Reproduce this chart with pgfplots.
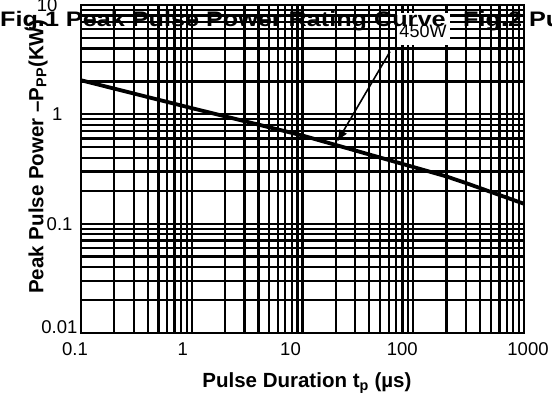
\documentclass[border=0pt]{standalone}
\usepackage{pgfplots}
\pgfplotsset{compat=1.18}
\usepackage{fontspec}
\setmainfont{Liberation Sans}
\usepackage{graphicx}
\usetikzlibrary{arrows.meta}
\newcommand\ticksfont{\fontsize{18.5}{18.5}\selectfont}
\newcommand\labfont{\fontsize{20.5}{20.5}\selectfont\bfseries}
\newcommand\titletext{\scalebox{1.2}[1]{\fontsize{21}{21}\selectfont\bfseries Fig.1 Peak Pulse Power Rating Curve}}
\begin{document}
\begin{tikzpicture}
\useasboundingbox (0pt,0pt) rectangle (552pt,401pt);
\node[anchor=base west, inner sep=0] at (0pt,374pt) {\titletext};
\node[anchor=base west, inner sep=0] at (463pt,374pt) {\scalebox{1.2}[1]{\fontsize{21}{21}\selectfont\bfseries Fig.2 Pulse Power Derating Curve}};
\begin{loglogaxis}[
  scale only axis, width=443pt, height=328pt,
  at={(81pt,68pt)}, anchor=south west,
  xmin=0.1, xmax=1000, ymin=0.01, ymax=10,
  xtick={0.1,1,10,100,1000},
  xticklabels={{0.1\hspace*{12pt}},{1\hspace*{18pt}},{10\hspace*{24pt}},{100\hspace*{22pt}},{\hspace*{8pt}1000}},
  ytick={0.01,0.1,1,10},
  yticklabels={{\raisebox{11pt}{0.01}},{0.1\hspace*{5pt}},{1\hspace*{15pt}},{10\hspace*{20pt}}},
  minor xtick={0.2,0.3,0.4,0.5,0.6,0.7,0.8,0.9,2,3,4,5,6,7,8,9,20,30,40,50,60,70,80,90,200,300,400,500,600,700,800,900},
  minor ytick={0.02,0.03,0.04,0.05,0.06,0.07,0.08,0.09,0.2,0.3,0.4,0.5,0.6,0.7,0.8,0.9,2,3,4,5,6,7,8,9},
  grid=both,
  major grid style={black, line width=2.3pt},
  minor grid style={black, line width=2.3pt},
  major tick length=0pt, minor tick length=0pt,
  axis line style={black, line width=2.3pt},
  tick label style={font=\ticksfont},
  xticklabel style={yshift=-6pt},
  xlabel={Pulse Duration t\textsubscript{p} (µs)},
  ylabel={Peak Pulse Power –P\textsubscript{PP}(KW)},
  label style={font=\labfont},
  xlabel style={at={(axis description cs:0.51,-0.1524)}, anchor=center},
  ylabel style={at={(axis description cs:-0.097,0.537)}, anchor=center},
]
\addplot[black, line width=3.8pt] coordinates {
  (0.1,2.05) (1,1.14) (10,0.64) (100,0.33) (200,0.27) (300,0.235) (1000,0.152)
};
\draw[black, line width=1.6pt, -{Latex[length=12pt,width=9pt]}] (axis cs:61.7,3.75) -- (axis cs:20.5,0.56);
\end{loglogaxis}
\fill[white] (397pt,356pt) rectangle (450pt,388pt);
\begin{scope}
\clip (397pt,356pt) rectangle (450pt,388pt);
\node[anchor=base west, inner sep=0] at (0pt,374pt) {\titletext};
\end{scope}
\node[anchor=center, inner sep=0] at (423pt,370pt) {\fontsize{18}{18}\selectfont 450W};
\end{tikzpicture}
\end{document}
